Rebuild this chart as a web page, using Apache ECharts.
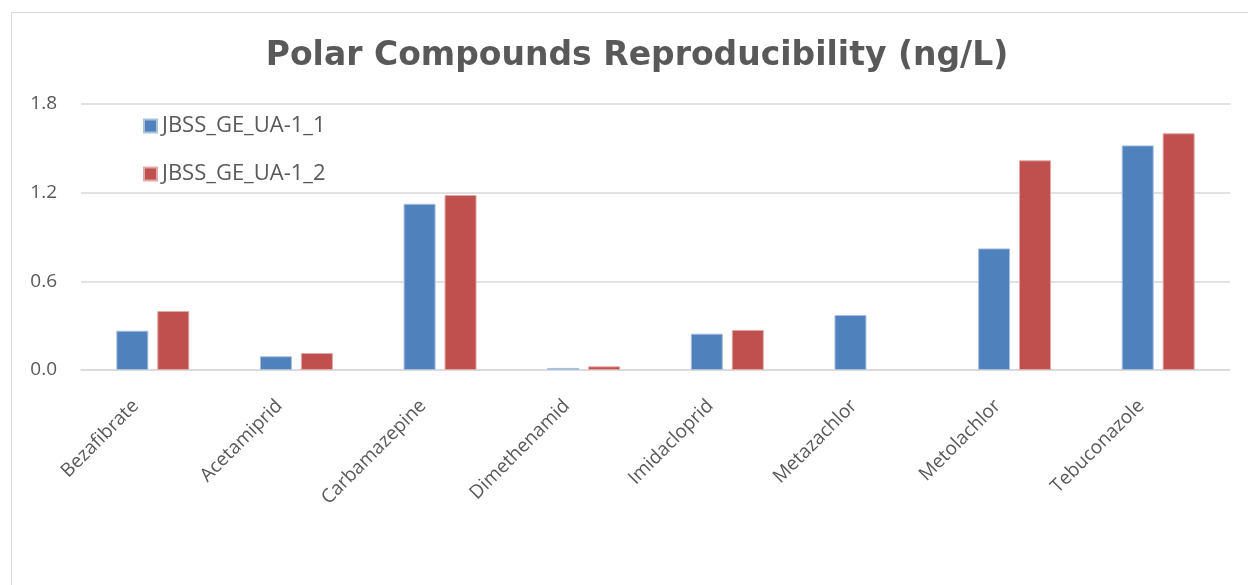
<!DOCTYPE html>
<html>
<head>
<meta charset="utf-8">
<script src="https://cdn.jsdelivr.net/npm/echarts@6/dist/echarts.min.js"></script>
<style>
html,body{margin:0;padding:0;background:#fff;}
#chart{width:1248px;height:585px;}
</style>
</head>
<body>
<div id="chart"></div>
<script>
const categories = ["Bezafibrate","Acetamiprid","Carbamazepine","Dimethenamid","Imidacloprid","Metazachlor","Metolachlor","Tebuconazole"];
const seriesNames = ["JBSS_GE_UA-1_1","JBSS_GE_UA-1_2"];
const run1 = [0.266, 0.093, 1.125, 0.014, 0.246, 0.372, 0.823, 1.520];
const run2 = [0.399, 0.115, 1.184, 0.025, 0.271, null, 1.419, 1.602];
const yTicks = [0, 0.6, 1.2, 1.8];

const chart = echarts.init(document.getElementById('chart'));
const labelFont = "'Open Sans', 'Noto Sans', sans-serif";
chart.setOption({
  animation: false,
  backgroundColor: '#ffffff',
  graphic: [{
    type: 'rect',
    shape: {x: 11.5, y: 12.5, width: 1400, height: 800},
    style: {fill: 'none', stroke: '#d9d9d9', lineWidth: 1},
    silent: true, z: -1
  }],
  title: {
    text: 'Polar Compounds Reproducibility (ng/L)',
    left: 632, top: 35, textAlign: 'center',
    textStyle: {fontFamily: "'DejaVu Sans', Verdana, sans-serif", fontWeight: 'bold', fontSize: 33, color: '#595959'}
  },
  legend: {
    orient: 'vertical',
    left: 143, top: 114, padding: 0,
    itemWidth: 13, itemHeight: 13, itemGap: 24,
    icon: 'rect',
    textStyle: {fontFamily: labelFont, fontSize: 22, lineHeight: 24, color: '#595959'},
    data: seriesNames
  },
  grid: {left: 81, right: 18, top: 104, bottom: 215, containLabel: false},
  xAxis: {
    type: 'category',
    data: categories,
    axisLine: {show: true, lineStyle: {color: '#d9d9d9', width: 1.5}},
    axisTick: {show: false},
    axisLabel: {rotate: 45, interval: 0, margin: 16, padding: [0, 24, 0, 0],
      fontFamily: labelFont, fontSize: 19, color: '#595959'}
  },
  yAxis: {
    type: 'value',
    min: 0, max: 1.8, interval: 0.6,
    axisLine: {show: false},
    axisTick: {show: false},
    splitLine: {lineStyle: {color: '#d9d9d9', width: 1.5}},
    axisLabel: {margin: 24, fontFamily: labelFont, fontSize: 19, color: '#595959',
      formatter: v => v.toFixed(1)}
  },
  series: [
    {name: seriesNames[0], type: 'bar', data: run1, barWidth: 32, barGap: '28%',
     itemStyle: {color: '#4F81BD', borderColor: '#a9c0de', borderWidth: 1}},
    {name: seriesNames[1], type: 'bar', data: run2, barWidth: 32, barGap: '28%',
     itemStyle: {color: '#C0504D', borderColor: '#e0a8a6', borderWidth: 1}}
  ]
});
</script>
</body>
</html>
